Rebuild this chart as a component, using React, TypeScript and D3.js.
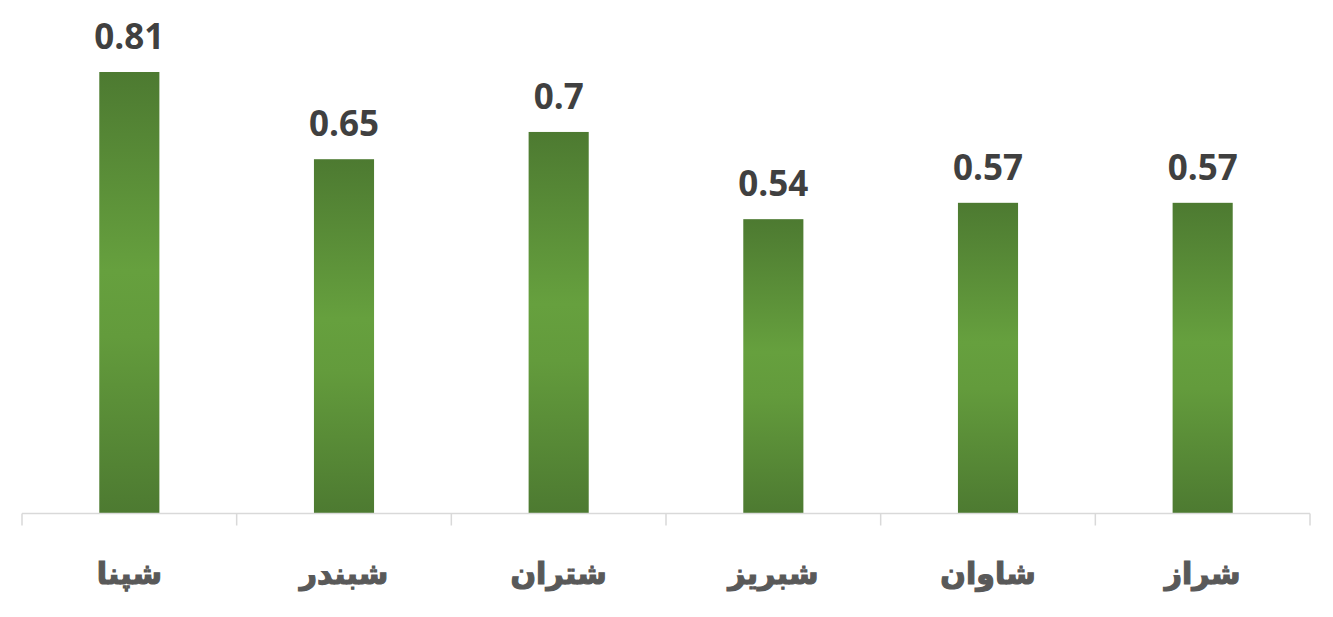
import React from "react";
import * as d3 from "d3";

const categories = ["شپنا", "شبندر", "شتران", "شبریز", "شاوان", "شراز"];
const values = [0.81, 0.65, 0.7, 0.54, 0.57, 0.57];
const valueLabels = ["0.81", "0.65", "0.7", "0.54", "0.57", "0.57"];

const W = 1333;
const H = 617;
const axisY = 513.5;
const x0 = 22;
const x1 = 1310;

export default function App() {
  const x = d3
    .scaleBand<string>()
    .domain(categories)
    .range([x0, x1])
    .paddingInner(0.72)
    .paddingOuter(0.36);
  const y = d3.scaleLinear().domain([0, 0.81]).range([axisY, 72]);
  const step = x.step();
  const tickXs = d3.range(categories.length + 1).map((i) => x0 + i * step);

  return (
    <svg
      width={W}
      height={H}
      style={{ position: "absolute", left: 0, top: 0, background: "#fff" }}
    >
      <defs>
        <linearGradient id="barGrad" x1="0" y1="0" x2="0" y2="1">
          <stop offset="0%" stopColor="#4d7a31" />
          <stop offset="45%" stopColor="#66a03e" />
          <stop offset="60%" stopColor="#639b3c" />
          <stop offset="100%" stopColor="#4d7a31" />
        </linearGradient>
      </defs>
      {categories.map((c, i) => (
        <rect
          key={c}
          x={x(c)}
          y={y(values[i])}
          width={x.bandwidth()}
          height={axisY - y(values[i])}
          fill="url(#barGrad)"
        />
      ))}
      <line x1={x0} x2={x1} y1={axisY} y2={axisY} stroke="#d9d9d9" strokeWidth={1.5} />
      {tickXs.map((tx, i) => (
        <line key={i} x1={tx} x2={tx} y1={axisY} y2={axisY + 12} stroke="#d9d9d9" strokeWidth={1.5} />
      ))}
      {categories.map((c, i) => (
        <text
          key={"v" + c}
          x={(x(c) as number) + x.bandwidth() / 2}
          y={Math.max(y(values[i]) - 23, 43)}
          textAnchor="middle"
          fontFamily="'Open Sans', 'Noto Sans', sans-serif"
          fontWeight="bold"
          fontSize={35}
          fill="#404040"
        >
          {valueLabels[i]}
        </text>
      ))}
      {categories.map((c) => (
        <text
          key={"c" + c}
          x={(x(c) as number) + x.bandwidth() / 2}
          y={584}
          textAnchor="middle"
          direction="rtl"
          fontFamily="'DejaVu Sans', sans-serif"
          fontWeight="bold"
          fontSize={30}
          fill="#595959"
          stroke="#595959"
          strokeWidth={1.2}
        >
          {c}
        </text>
      ))}
    </svg>
  );
}
